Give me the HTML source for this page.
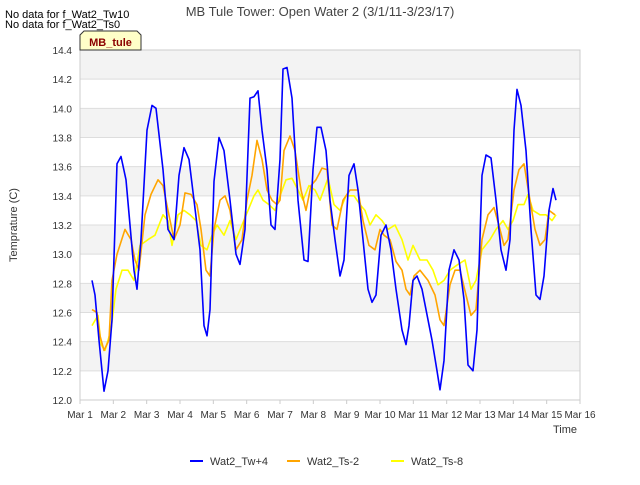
<!DOCTYPE html>
<html><head><meta charset="utf-8"><style>
body{margin:0;background:#fff;font-family:"Liberation Sans",sans-serif}
svg text{font-family:"Liberation Sans",sans-serif}
</style></head><body>
<svg id="chart" width="640" height="480" viewBox="0 0 640 480" xmlns="http://www.w3.org/2000/svg">
<rect width="640" height="480" fill="#fff"/>
<g id="bands"></g>
<g id="grid"></g>
<rect x="80" y="50" width="500" height="350" fill="none" stroke="#ccc"/>
<g id="xticks"></g><g id="yticks"></g>
<g id="series"></g>
<text x="320" y="16" text-anchor="middle" font-size="13" fill="#444">MB Tule Tower: Open Water 2 (3/1/11-3/23/17)</text>
<text x="5" y="18" font-size="11" fill="#000">No data for f_Wat2_Tw10</text>
<text x="5" y="28" font-size="11" fill="#000">No data for f_Wat2_Ts0</text>
<g>
<path d="M80,50 L80,35 L84,31 L137,31 L141,35 L141,50 Z" fill="#ffffc8" stroke="#333"/>
<text x="110.5" y="46" text-anchor="middle" font-size="11" font-weight="bold" fill="#8b0000">MB_tule</text></g>
<text transform="translate(17,225) rotate(-90)" text-anchor="middle" font-size="11" fill="#333">Temprature (C)</text>
<text x="565" y="433" text-anchor="middle" font-size="11" fill="#333">Time</text>
<g>
<g><line x1="190" y1="461" x2="203" y2="461" stroke="#0000ff" stroke-width="2"/><text x="210" y="465" font-size="11" fill="#333">Wat2_Tw+4</text></g>
<g><line x1="287" y1="461" x2="300" y2="461" stroke="#ffa500" stroke-width="2"/><text x="307" y="465" font-size="11" fill="#333">Wat2_Ts-2</text></g>
<g><line x1="391" y1="461" x2="404" y2="461" stroke="#ffff00" stroke-width="2"/><text x="411" y="465" font-size="11" fill="#333">Wat2_Ts-8</text></g>
</g>
</svg>
<script>
const xTickLabels=["Mar 1","Mar 2","Mar 3","Mar 4","Mar 5","Mar 6","Mar 7","Mar 8","Mar 9","Mar 10","Mar 11","Mar 12","Mar 13","Mar 14","Mar 15","Mar 16"];
const yTickValues=[12.0,12.2,12.4,12.6,12.8,13.0,13.2,13.4,13.6,13.8,14.0,14.2,14.4];
const twDays=[.36,.45,.57,.72,.84,.96,1.11,1.23,1.38,1.5,1.62,1.71,1.83,2.01,2.16,2.28,2.49,2.64,2.82,2.97,3.12,3.27,3.42,3.6,3.72,3.81,3.9,4.02,4.17,4.32,4.5,4.68,4.8,4.95,5.1,5.22,5.34,5.46,5.61,5.73,5.85,6.0,6.09,6.21,6.36,6.54,6.72,6.84,6.99,7.11,7.23,7.38,7.5,7.65,7.8,7.92,8.07,8.22,8.34,8.49,8.64,8.76,8.88,9.03,9.18,9.33,9.48,9.66,9.78,9.87,9.99,10.11,10.26,10.44,10.56,10.71,10.8,10.92,11.07,11.22,11.37,11.52,11.64,11.79,11.91,12.06,12.18,12.33,12.48,12.63,12.78,12.9,13.02,13.11,13.23,13.38,13.53,13.68,13.8,13.92,14.07,14.19,14.28];
const twValues=[12.82,12.72,12.41,12.06,12.2,12.55,13.62,13.67,13.51,13.2,12.89,12.76,13.1,13.85,14.02,14.0,13.58,13.17,13.1,13.54,13.73,13.65,13.37,13.03,12.51,12.44,12.62,13.5,13.8,13.71,13.37,13.0,12.93,13.17,14.07,14.08,14.12,13.85,13.58,13.2,13.17,13.65,14.27,14.28,14.07,13.37,12.96,12.95,13.58,13.87,13.87,13.71,13.37,13.1,12.85,12.96,13.54,13.62,13.44,13.1,12.76,12.67,12.72,13.13,13.2,13.03,12.76,12.48,12.38,12.51,12.82,12.85,12.76,12.55,12.41,12.2,12.07,12.27,12.89,13.03,12.96,12.69,12.24,12.2,12.48,13.54,13.68,13.66,13.37,13.03,12.89,13.1,13.85,14.13,14.02,13.71,13.17,12.72,12.69,12.85,13.3,13.45,13.37];
const ts2Days=[.36,.51,.6,.72,.87,.96,1.11,1.35,1.53,1.65,1.77,1.95,2.13,2.34,2.49,2.64,2.82,3.0,3.15,3.33,3.51,3.63,3.78,3.9,4.02,4.2,4.35,4.5,4.68,4.86,5.01,5.16,5.31,5.46,5.61,5.76,5.91,6.0,6.12,6.3,6.45,6.63,6.78,6.93,7.08,7.26,7.41,7.56,7.71,7.89,8.1,8.34,8.49,8.67,8.85,9.0,9.12,9.3,9.48,9.66,9.78,9.9,10.02,10.2,10.44,10.65,10.8,10.92,11.1,11.25,11.4,11.58,11.73,11.88,12.06,12.24,12.42,12.6,12.72,12.84,13.02,13.17,13.32,13.47,13.65,13.8,13.95,14.07,14.25];
const ts2Values=[12.62,12.6,12.44,12.34,12.41,12.82,13.0,13.17,13.1,12.96,12.89,13.27,13.41,13.51,13.47,13.3,13.1,13.2,13.42,13.41,13.34,13.17,12.89,12.85,13.17,13.37,13.4,13.3,13.03,13.1,13.37,13.54,13.78,13.65,13.44,13.37,13.34,13.37,13.71,13.81,13.71,13.44,13.3,13.47,13.51,13.59,13.58,13.2,13.17,13.37,13.44,13.44,13.23,13.06,13.03,13.17,13.13,13.1,12.95,12.89,12.76,12.72,12.85,12.89,12.82,12.72,12.55,12.51,12.79,12.89,12.89,12.72,12.58,12.62,13.1,13.27,13.32,13.17,13.06,13.1,13.44,13.58,13.62,13.41,13.17,13.06,13.1,13.3,13.27];
const ts8Days=[.36,.54,.63,.75,.93,1.08,1.26,1.44,1.62,1.8,2.04,2.25,2.49,2.64,2.76,2.94,3.12,3.3,3.48,3.63,3.81,3.96,4.11,4.32,4.5,4.68,4.86,5.04,5.22,5.34,5.49,5.67,5.85,6.0,6.18,6.36,6.54,6.69,6.87,7.05,7.2,7.44,7.62,7.8,7.98,8.22,8.4,8.55,8.7,8.88,9.06,9.24,9.45,9.66,9.84,9.99,10.2,10.41,10.59,10.74,10.92,11.1,11.34,11.55,11.73,11.88,12.06,12.3,12.48,12.69,12.84,12.99,13.14,13.32,13.44,13.59,13.8,13.98,14.16,14.28];
const ts8Values=[12.51,12.58,12.38,12.34,12.48,12.76,12.89,12.89,12.82,13.06,13.1,13.13,13.27,13.23,13.06,13.27,13.3,13.27,13.23,13.06,13.03,13.13,13.2,13.13,13.23,13.1,13.2,13.3,13.4,13.44,13.37,13.34,13.3,13.4,13.51,13.52,13.44,13.37,13.47,13.44,13.37,13.52,13.34,13.3,13.4,13.4,13.34,13.3,13.2,13.27,13.23,13.17,13.2,13.1,12.96,13.06,12.96,12.96,12.89,12.79,12.82,12.89,12.93,12.96,12.76,12.82,13.03,13.1,13.17,13.23,13.17,13.23,13.34,13.34,13.41,13.3,13.27,13.27,13.23,13.27];

const NS="http://www.w3.org/2000/svg";
const X0=80,X1=580,Y0=400,Y1=50,DAYS=15,VMIN=12,VMAX=14.4;
const xScale=d=>X0+d/DAYS*(X1-X0);
const yScale=v=>Y0-(v-VMIN)/(VMAX-VMIN)*(Y0-Y1);
function mk(tag,attrs,parent){const e=document.createElementNS(NS,tag);for(const k in attrs)e.setAttribute(k,attrs[k]);parent.appendChild(e);return e;}
const bands=document.getElementById('bands'),grid=document.getElementById('grid');
for(let i=0;i<yTickValues.length-1;i++){
  if((yTickValues.length-2-i)%2===0){
    const r=mk('rect',{x:X0,y:yScale(yTickValues[i+1]),width:X1-X0,height:yScale(yTickValues[i])-yScale(yTickValues[i+1]),fill:'#f3f3f3'},bands);
    
    
  }
}
const yt=document.getElementById('yticks');
yTickValues.forEach(v=>{
  const l=mk('line',{x1:X0,x2:X1,y1:yScale(v),y2:yScale(v),stroke:'#ddd'},grid);
  
  
  const t=mk('text',{x:X0-8,y:yScale(v)+4,'text-anchor':'end','font-size':'10',fill:'#333'},yt);
  t.textContent=v.toFixed(1);
  
  
});
const xt=document.getElementById('xticks');
xTickLabels.forEach((s,i)=>{
  const tk=mk('line',{x1:xScale(i),x2:xScale(i),y1:Y0,y2:Y0+4,stroke:'#ccc'},xt);
  
  
  const t=mk('text',{x:xScale(i),y:Y0+18,'text-anchor':'middle','font-size':'10',fill:'#333'},xt);
  t.textContent=s;
  
  
});
const sg=document.getElementById('series');
[[ts8Days,ts8Values,'#ffff00','series-wat2-ts8'],[ts2Days,ts2Values,'#ffa500','series-wat2-ts2'],[twDays,twValues,'#0000ff','series-wat2-tw4']].forEach(([d,v,c,n])=>{
  const p=mk('polyline',{points:d.map((x,i)=>xScale(x).toFixed(1)+','+yScale(v[i]).toFixed(1)).join(' '),fill:'none',stroke:c,'stroke-width':'1.6','stroke-linejoin':'round'},sg);
  
  
});
</script>
</body></html>
